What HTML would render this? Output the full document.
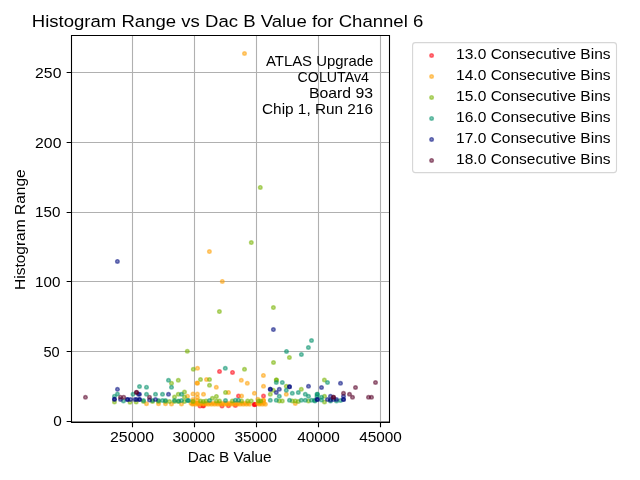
<!DOCTYPE html><html><head><meta charset="utf-8"><style>html,body{margin:0;padding:0;background:#fff;overflow:hidden}svg{display:block;will-change:transform}text{font-family:"Liberation Sans",sans-serif;fill:#000}</style></head><body>
<svg width="640" height="480" viewBox="0 0 640 480">
<rect x="0" y="0" width="640" height="480" fill="#fff"/>
<path d="M132.5 35.5V422.2M194.5 35.5V422.2M256.5 35.5V422.2M318.5 35.5V422.2M380.5 35.5V422.2M71.5 421.5H389.4M71.5 351.5H389.4M71.5 281.5H389.4M71.5 212.5H389.4M71.5 142.5H389.4M71.5 72.5H389.4" stroke="#b0b0b0" stroke-width="1.11" fill="none"/>
<g fill="#ff0010" fill-opacity="0.5" stroke="#ff0010" stroke-opacity="0.5" stroke-width="1.4"><circle cx="219.5" cy="371.4" r="1.8"/><circle cx="232.5" cy="372.4" r="1.8"/><circle cx="238.5" cy="396.1" r="1.8"/><circle cx="200" cy="406" r="1.8"/><circle cx="203.3" cy="406.1" r="1.8"/><circle cx="203.3" cy="405.5" r="1.8"/><circle cx="222" cy="406" r="1.8"/><circle cx="228.5" cy="405.8" r="1.8"/><circle cx="235.4" cy="405.5" r="1.8"/><circle cx="254.4" cy="404.2" r="1.8"/><circle cx="254.4" cy="404.7" r="1.8"/><circle cx="255" cy="404.5" r="1.8"/><circle cx="263.5" cy="396.1" r="1.8"/></g><g fill="#ffa000" fill-opacity="0.5" stroke="#ffa000" stroke-opacity="0.5" stroke-width="1.4"><circle cx="244.5" cy="53.5" r="1.8"/><circle cx="209.4" cy="251.6" r="1.8"/><circle cx="222.3" cy="281.4" r="1.8"/><circle cx="197.5" cy="368.3" r="1.8"/><circle cx="263.4" cy="375.4" r="1.8"/><circle cx="187.5" cy="396.2" r="1.8"/><circle cx="146.5" cy="403.7" r="1.8"/><circle cx="158.5" cy="403.7" r="1.8"/><circle cx="165.5" cy="403.7" r="1.8"/><circle cx="171.5" cy="404" r="1.8"/><circle cx="181.5" cy="404" r="1.8"/><circle cx="193" cy="394" r="1.8"/><circle cx="193" cy="399.5" r="1.8"/><circle cx="193" cy="401.4" r="1.8"/><circle cx="193" cy="403.6" r="1.8"/><circle cx="197.4" cy="394" r="1.8"/><circle cx="197.4" cy="397.4" r="1.8"/><circle cx="197.4" cy="403" r="1.8"/><circle cx="197.4" cy="400.5" r="1.8"/><circle cx="197" cy="383" r="1.8"/><circle cx="206.5" cy="379.5" r="1.8"/><circle cx="197.5" cy="383.3" r="1.8"/><circle cx="216.3" cy="387.3" r="1.8"/><circle cx="241.3" cy="380.3" r="1.8"/><circle cx="247.3" cy="383.3" r="1.8"/><circle cx="203.5" cy="394.3" r="1.8"/><circle cx="228.5" cy="392.4" r="1.8"/><circle cx="241.6" cy="396.1" r="1.8"/><circle cx="254.4" cy="393.3" r="1.8"/><circle cx="257.9" cy="399.3" r="1.8"/><circle cx="263.5" cy="400.5" r="1.8"/><circle cx="263.5" cy="400.3" r="1.8"/><circle cx="263.5" cy="386.3" r="1.8"/><circle cx="259" cy="403" r="1.8"/><circle cx="261" cy="402" r="1.8"/><circle cx="295.3" cy="403.5" r="1.8"/><circle cx="286.3" cy="394.3" r="1.8"/><circle cx="191.0" cy="403.3" r="1.8"/><circle cx="192.5" cy="404.3" r="1.8"/><circle cx="194.2" cy="403.3" r="1.8"/><circle cx="195.7" cy="404.3" r="1.8"/><circle cx="197.3" cy="403.3" r="1.8"/><circle cx="198.8" cy="404.3" r="1.8"/><circle cx="200.5" cy="403.3" r="1.8"/><circle cx="202.0" cy="404.3" r="1.8"/><circle cx="203.7" cy="403.3" r="1.8"/><circle cx="205.2" cy="404.3" r="1.8"/><circle cx="206.8" cy="403.3" r="1.8"/><circle cx="208.3" cy="404.3" r="1.8"/><circle cx="210.0" cy="403.3" r="1.8"/><circle cx="211.5" cy="404.3" r="1.8"/><circle cx="213.2" cy="403.3" r="1.8"/><circle cx="214.7" cy="404.3" r="1.8"/><circle cx="216.4" cy="403.3" r="1.8"/><circle cx="217.9" cy="404.3" r="1.8"/><circle cx="219.5" cy="403.3" r="1.8"/><circle cx="221.0" cy="404.3" r="1.8"/><circle cx="222.7" cy="403.3" r="1.8"/><circle cx="224.2" cy="404.3" r="1.8"/><circle cx="225.9" cy="403.3" r="1.8"/><circle cx="227.4" cy="404.3" r="1.8"/><circle cx="229.0" cy="403.3" r="1.8"/><circle cx="230.5" cy="404.3" r="1.8"/><circle cx="232.2" cy="403.3" r="1.8"/><circle cx="233.7" cy="404.3" r="1.8"/><circle cx="235.4" cy="403.3" r="1.8"/><circle cx="236.9" cy="404.3" r="1.8"/><circle cx="238.5" cy="403.3" r="1.8"/><circle cx="240.0" cy="404.3" r="1.8"/><circle cx="241.7" cy="403.3" r="1.8"/><circle cx="243.2" cy="404.3" r="1.8"/><circle cx="244.9" cy="403.3" r="1.8"/><circle cx="246.4" cy="404.3" r="1.8"/><circle cx="248.1" cy="403.3" r="1.8"/><circle cx="249.6" cy="404.3" r="1.8"/><circle cx="257.6" cy="403.3" r="1.8"/><circle cx="259.1" cy="404.3" r="1.8"/><circle cx="260.7" cy="403.3" r="1.8"/><circle cx="262.2" cy="404.3" r="1.8"/><circle cx="263.9" cy="403.3" r="1.8"/><circle cx="265.4" cy="404.3" r="1.8"/></g><g fill="#78b400" fill-opacity="0.5" stroke="#78b400" stroke-opacity="0.5" stroke-width="1.4"><circle cx="260.3" cy="187.4" r="1.8"/><circle cx="251.3" cy="242.6" r="1.8"/><circle cx="219.4" cy="311.6" r="1.8"/><circle cx="273.4" cy="307.6" r="1.8"/><circle cx="187.3" cy="351.3" r="1.8"/><circle cx="289.4" cy="357.5" r="1.8"/><circle cx="273.5" cy="362.5" r="1.8"/><circle cx="193.3" cy="369.3" r="1.8"/><circle cx="244.5" cy="369.3" r="1.8"/><circle cx="276.5" cy="380" r="1.8"/><circle cx="324.4" cy="380" r="1.8"/><circle cx="114.5" cy="402" r="1.8"/><circle cx="130" cy="402.2" r="1.8"/><circle cx="136.2" cy="402" r="1.8"/><circle cx="171.5" cy="383.3" r="1.8"/><circle cx="178.3" cy="380.3" r="1.8"/><circle cx="178.3" cy="394.3" r="1.8"/><circle cx="184.5" cy="392" r="1.8"/><circle cx="184.5" cy="397" r="1.8"/><circle cx="174.5" cy="397" r="1.8"/><circle cx="143.5" cy="401.5" r="1.8"/><circle cx="152.5" cy="401.5" r="1.8"/><circle cx="158.5" cy="401.5" r="1.8"/><circle cx="169.5" cy="401.5" r="1.8"/><circle cx="165.5" cy="401.5" r="1.8"/><circle cx="174.5" cy="401.5" r="1.8"/><circle cx="178.5" cy="401.5" r="1.8"/><circle cx="184.5" cy="401.5" r="1.8"/><circle cx="193" cy="401.4" r="1.8"/><circle cx="200.5" cy="379.5" r="1.8"/><circle cx="209.5" cy="379.5" r="1.8"/><circle cx="209.5" cy="385.3" r="1.8"/><circle cx="225.5" cy="392.4" r="1.8"/><circle cx="216.4" cy="396.4" r="1.8"/><circle cx="212.4" cy="398.3" r="1.8"/><circle cx="200.5" cy="401.1" r="1.8"/><circle cx="203.3" cy="401.4" r="1.8"/><circle cx="206" cy="401.1" r="1.8"/><circle cx="216.4" cy="401.1" r="1.8"/><circle cx="219.5" cy="401.1" r="1.8"/><circle cx="232.3" cy="401.1" r="1.8"/><circle cx="241.6" cy="401.1" r="1.8"/><circle cx="247.6" cy="401.1" r="1.8"/><circle cx="251.3" cy="401.1" r="1.8"/><circle cx="258.5" cy="401.1" r="1.8"/><circle cx="260.7" cy="401.1" r="1.8"/><circle cx="276.3" cy="380" r="1.8"/><circle cx="286.3" cy="386.3" r="1.8"/><circle cx="273.3" cy="390.3" r="1.8"/><circle cx="270.3" cy="394.3" r="1.8"/><circle cx="301.3" cy="389.3" r="1.8"/><circle cx="279.3" cy="401" r="1.8"/><circle cx="282.3" cy="401" r="1.8"/><circle cx="292.3" cy="401" r="1.8"/><circle cx="295.3" cy="401" r="1.8"/><circle cx="298.3" cy="401.5" r="1.8"/><circle cx="308.5" cy="401" r="1.8"/><circle cx="324.5" cy="396.3" r="1.8"/><circle cx="324.5" cy="402" r="1.8"/></g><g fill="#00906a" fill-opacity="0.5" stroke="#00906a" stroke-opacity="0.5" stroke-width="1.4"><circle cx="286.5" cy="351.4" r="1.8"/><circle cx="301.4" cy="354.5" r="1.8"/><circle cx="308.4" cy="347.5" r="1.8"/><circle cx="311.5" cy="340.5" r="1.8"/><circle cx="225.3" cy="368.3" r="1.8"/><circle cx="117.5" cy="394" r="1.8"/><circle cx="114.5" cy="396.2" r="1.8"/><circle cx="123.5" cy="401" r="1.8"/><circle cx="133" cy="394.3" r="1.8"/><circle cx="139.5" cy="386.5" r="1.8"/><circle cx="146.5" cy="387.2" r="1.8"/><circle cx="168.5" cy="380.3" r="1.8"/><circle cx="171.5" cy="387.3" r="1.8"/><circle cx="146.5" cy="394.3" r="1.8"/><circle cx="155.5" cy="394.3" r="1.8"/><circle cx="162.5" cy="394.3" r="1.8"/><circle cx="181.5" cy="394.3" r="1.8"/><circle cx="143.5" cy="400.5" r="1.8"/><circle cx="152.5" cy="400.5" r="1.8"/><circle cx="158.5" cy="400.5" r="1.8"/><circle cx="162.5" cy="400.5" r="1.8"/><circle cx="165.5" cy="400.5" r="1.8"/><circle cx="174.5" cy="400.5" r="1.8"/><circle cx="178.5" cy="401" r="1.8"/><circle cx="181.5" cy="400.5" r="1.8"/><circle cx="187.5" cy="400.5" r="1.8"/><circle cx="209.5" cy="400.5" r="1.8"/><circle cx="225.5" cy="400.5" r="1.8"/><circle cx="188.6" cy="400.5" r="1.8"/><circle cx="235.4" cy="400.2" r="1.8"/><circle cx="238.5" cy="400.2" r="1.8"/><circle cx="276.3" cy="382.5" r="1.8"/><circle cx="282.3" cy="382.5" r="1.8"/><circle cx="286.3" cy="390.3" r="1.8"/><circle cx="279.3" cy="396.3" r="1.8"/><circle cx="292.3" cy="393.3" r="1.8"/><circle cx="298.3" cy="392.5" r="1.8"/><circle cx="305.3" cy="394.3" r="1.8"/><circle cx="308.5" cy="396.3" r="1.8"/><circle cx="317" cy="394.3" r="1.8"/><circle cx="317" cy="396.5" r="1.8"/><circle cx="270.3" cy="400.3" r="1.8"/><circle cx="276.3" cy="400.3" r="1.8"/><circle cx="289.5" cy="400.3" r="1.8"/><circle cx="301.3" cy="400.3" r="1.8"/><circle cx="305.3" cy="400.3" r="1.8"/><circle cx="311.5" cy="400.3" r="1.8"/><circle cx="314.5" cy="400.3" r="1.8"/><circle cx="327.5" cy="382.5" r="1.8"/><circle cx="317.5" cy="394.3" r="1.8"/><circle cx="321.5" cy="397.3" r="1.8"/><circle cx="321.5" cy="400" r="1.8"/><circle cx="330.5" cy="401" r="1.8"/><circle cx="336.5" cy="401" r="1.8"/><circle cx="340.5" cy="400.5" r="1.8"/><circle cx="315" cy="401" r="1.8"/></g><g fill="#000c80" fill-opacity="0.5" stroke="#000c80" stroke-opacity="0.5" stroke-width="1.4"><circle cx="117.4" cy="261.4" r="1.8"/><circle cx="273.4" cy="329.6" r="1.8"/><circle cx="117.5" cy="389.3" r="1.8"/><circle cx="114.5" cy="399.3" r="1.8"/><circle cx="114.5" cy="399.3" r="1.8"/><circle cx="120.5" cy="399.5" r="1.8"/><circle cx="127.5" cy="399.5" r="1.8"/><circle cx="127.5" cy="399.5" r="1.8"/><circle cx="130.5" cy="399.5" r="1.8"/><circle cx="135" cy="399.5" r="1.8"/><circle cx="138.5" cy="394.3" r="1.8"/><circle cx="139.5" cy="394.3" r="1.8"/><circle cx="168.5" cy="394.3" r="1.8"/><circle cx="136.5" cy="399.5" r="1.8"/><circle cx="139.5" cy="399.5" r="1.8"/><circle cx="139.5" cy="399.5" r="1.8"/><circle cx="149.5" cy="400" r="1.8"/><circle cx="155.5" cy="399.5" r="1.8"/><circle cx="289.5" cy="386.8" r="1.8"/><circle cx="289.5" cy="386.8" r="1.8"/><circle cx="270.3" cy="389.3" r="1.8"/><circle cx="270.3" cy="389.3" r="1.8"/><circle cx="279.3" cy="389.3" r="1.8"/><circle cx="276.3" cy="392.5" r="1.8"/><circle cx="308.5" cy="386.3" r="1.8"/><circle cx="317" cy="399.5" r="1.8"/><circle cx="321.5" cy="387.5" r="1.8"/><circle cx="340.5" cy="383.3" r="1.8"/><circle cx="330.5" cy="396.3" r="1.8"/><circle cx="343.5" cy="396.3" r="1.8"/><circle cx="317.5" cy="399.5" r="1.8"/><circle cx="327.5" cy="399.5" r="1.8"/><circle cx="330.5" cy="400" r="1.8"/><circle cx="333.5" cy="399.5" r="1.8"/><circle cx="336.5" cy="399.5" r="1.8"/><circle cx="343.5" cy="399.5" r="1.8"/><circle cx="343.5" cy="399.5" r="1.8"/></g><g fill="#580028" fill-opacity="0.5" stroke="#580028" stroke-opacity="0.5" stroke-width="1.4"><circle cx="85.5" cy="397.3" r="1.8"/><circle cx="120.5" cy="397.2" r="1.8"/><circle cx="123.7" cy="397.2" r="1.8"/><circle cx="136.5" cy="392.5" r="1.8"/><circle cx="136.5" cy="392.2" r="1.8"/><circle cx="149.5" cy="397.2" r="1.8"/><circle cx="355.5" cy="387.5" r="1.8"/><circle cx="375.5" cy="382.5" r="1.8"/><circle cx="343.5" cy="393.3" r="1.8"/><circle cx="349.5" cy="394.3" r="1.8"/><circle cx="352.5" cy="397.3" r="1.8"/><circle cx="368.5" cy="397.3" r="1.8"/><circle cx="371.5" cy="397.3" r="1.8"/><circle cx="333.5" cy="397.3" r="1.8"/><circle cx="333.5" cy="397.3" r="1.8"/></g>
<text x="265.97" y="66.00" font-size="14.4" textLength="107.39" lengthAdjust="spacingAndGlyphs">ATLAS Upgrade</text>
<text x="297.59" y="82.10" font-size="14.4" textLength="71.42" lengthAdjust="spacingAndGlyphs">COLUTAv4</text>
<text x="308.91" y="98.10" font-size="14.4" textLength="64.08" lengthAdjust="spacingAndGlyphs">Board 93</text>
<text x="262.03" y="113.90" font-size="14.4" textLength="110.93" lengthAdjust="spacingAndGlyphs">Chip 1, Run 216</text>
<path d="M70.95 34.95H390.05V36.05H70.95ZM70.95 34.95H72.05V423H70.95ZM388.95 34.95H390.05V423H388.95ZM70.95 421.7H390.05V423H70.95Z" fill="#000"/>
<path d="M132.5 422.5V427.2M194.5 422.5V427.2M256.5 422.5V427.2M318.5 422.5V427.2M380.5 422.5V427.2M71.5 421.5H66.64M71.5 351.5H66.64M71.5 281.5H66.64M71.5 212.5H66.64M71.5 142.5H66.64M71.5 72.5H66.64" stroke="#000" stroke-width="1.11" fill="none"/>
<text x="110.01" y="441.75" font-size="14.4" textLength="44.09" lengthAdjust="spacingAndGlyphs">25000</text>
<text x="172.42" y="441.75" font-size="14.4" textLength="42.66" lengthAdjust="spacingAndGlyphs">30000</text>
<text x="234.42" y="441.75" font-size="14.4" textLength="42.66" lengthAdjust="spacingAndGlyphs">35000</text>
<text x="297.16" y="441.75" font-size="14.4" textLength="42.72" lengthAdjust="spacingAndGlyphs">40000</text>
<text x="359.16" y="441.75" font-size="14.4" textLength="42.72" lengthAdjust="spacingAndGlyphs">45000</text>
<text x="53.20" y="425.60" font-size="14.4" textLength="8.59" lengthAdjust="spacingAndGlyphs">0</text>
<text x="43.42" y="356.75" font-size="14.4" textLength="16.24" lengthAdjust="spacingAndGlyphs">50</text>
<text x="35.05" y="287.00" font-size="14.4" textLength="25.34" lengthAdjust="spacingAndGlyphs">100</text>
<text x="35.05" y="216.80" font-size="14.4" textLength="25.34" lengthAdjust="spacingAndGlyphs">150</text>
<text x="35.11" y="148.00" font-size="14.4" textLength="26.29" lengthAdjust="spacingAndGlyphs">200</text>
<text x="35.11" y="77.70" font-size="14.4" textLength="26.29" lengthAdjust="spacingAndGlyphs">250</text>
<text x="187.65" y="461.60" font-size="14.4" textLength="83.93" lengthAdjust="spacingAndGlyphs">Dac B Value</text>
<g transform="translate(25,0) rotate(-90)"><text x="-290.02" y="0.00" font-size="14.4" textLength="120.71" lengthAdjust="spacingAndGlyphs">Histogram Range</text></g>
<text x="31.78" y="26.80" font-size="17.1" textLength="391.52" lengthAdjust="spacingAndGlyphs">Histogram Range vs Dac B Value for Channel 6</text>
<rect x="412.6" y="42.6" width="203.9" height="130.0" rx="2.8" fill="#fff" stroke="#d6d6d6" stroke-width="1.11"/>
<circle cx="431.6" cy="55.50" r="1.8" fill="#ff0010" fill-opacity="0.5" stroke="#ff0010" stroke-opacity="0.5" stroke-width="1.4"/>
<text x="456.12" y="59.20" font-size="14.4" textLength="154.44" lengthAdjust="spacingAndGlyphs">13.0 Consecutive Bins</text>
<circle cx="431.6" cy="76.48" r="1.8" fill="#ffa000" fill-opacity="0.5" stroke="#ffa000" stroke-opacity="0.5" stroke-width="1.4"/>
<text x="456.12" y="80.16" font-size="14.4" textLength="154.44" lengthAdjust="spacingAndGlyphs">14.0 Consecutive Bins</text>
<circle cx="431.6" cy="97.46" r="1.8" fill="#78b400" fill-opacity="0.5" stroke="#78b400" stroke-opacity="0.5" stroke-width="1.4"/>
<text x="456.12" y="101.12" font-size="14.4" textLength="154.44" lengthAdjust="spacingAndGlyphs">15.0 Consecutive Bins</text>
<circle cx="431.6" cy="118.44" r="1.8" fill="#00906a" fill-opacity="0.5" stroke="#00906a" stroke-opacity="0.5" stroke-width="1.4"/>
<text x="456.12" y="122.08" font-size="14.4" textLength="154.44" lengthAdjust="spacingAndGlyphs">16.0 Consecutive Bins</text>
<circle cx="431.6" cy="139.42" r="1.8" fill="#000c80" fill-opacity="0.5" stroke="#000c80" stroke-opacity="0.5" stroke-width="1.4"/>
<text x="456.12" y="143.04" font-size="14.4" textLength="154.44" lengthAdjust="spacingAndGlyphs">17.0 Consecutive Bins</text>
<circle cx="431.6" cy="160.40" r="1.8" fill="#580028" fill-opacity="0.5" stroke="#580028" stroke-opacity="0.5" stroke-width="1.4"/>
<text x="456.12" y="164.00" font-size="14.4" textLength="154.44" lengthAdjust="spacingAndGlyphs">18.0 Consecutive Bins</text>
</svg></body></html>
